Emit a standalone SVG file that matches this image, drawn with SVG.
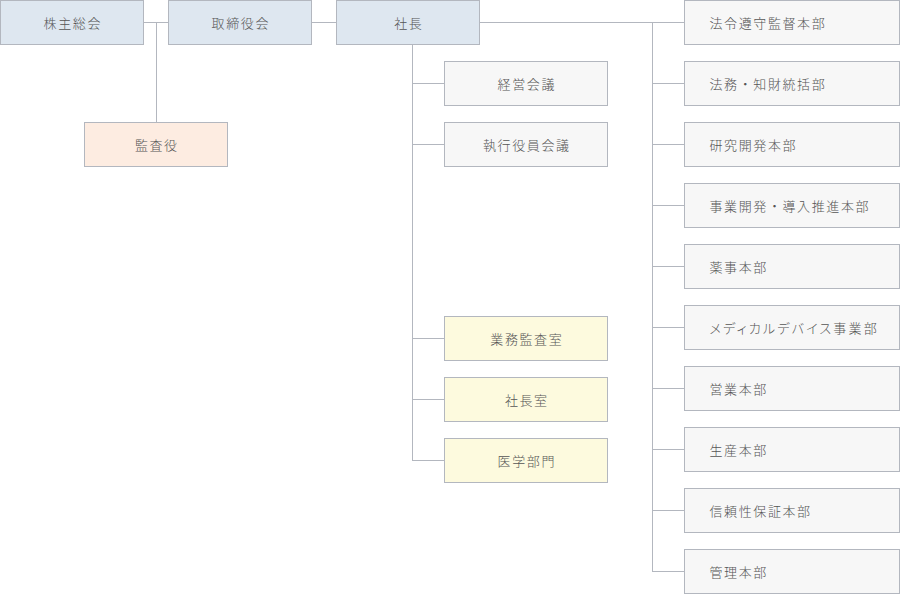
<svg xmlns="http://www.w3.org/2000/svg" width="900" height="594" viewBox="0 0 900 594">
<style>
.n rect{stroke:#b3b7bf;stroke-width:1}
.b{fill:#dee7f0}.o{fill:#fdece1}.y{fill:#fdfade}.g{fill:#f7f7f7}
text{font-family:"Noto Sans CJK JP","Noto Sans",sans-serif;font-size:13px;font-weight:300;fill:#555;letter-spacing:1.6px}
.c{text-anchor:middle}
.p{font-feature-settings:"palt";letter-spacing:2.2px}
#lines line{stroke:#b3b7bf;stroke-width:1}
</style>
<rect width="900" height="594" fill="#fff"/>
<g id="lines">
<line x1="144" y1="22.5" x2="168" y2="22.5"/>
<line x1="156.5" y1="22.5" x2="156.5" y2="122"/>
<line x1="312" y1="22.5" x2="336" y2="22.5"/>
<line x1="480" y1="22.5" x2="684" y2="22.5"/>
<line x1="412.5" y1="45" x2="412.5" y2="460.5"/>
<line x1="412.5" y1="83.5" x2="444" y2="83.5"/>
<line x1="412.5" y1="144.5" x2="444" y2="144.5"/>
<line x1="412.5" y1="338.5" x2="444" y2="338.5"/>
<line x1="412.5" y1="399.5" x2="444" y2="399.5"/>
<line x1="412" y1="460.5" x2="444" y2="460.5"/>
<line x1="652.5" y1="22.5" x2="652.5" y2="571.5"/>
<line x1="652.5" y1="83.5" x2="684" y2="83.5"/>
<line x1="652.5" y1="144.5" x2="684" y2="144.5"/>
<line x1="652.5" y1="205.5" x2="684" y2="205.5"/>
<line x1="652.5" y1="266.5" x2="684" y2="266.5"/>
<line x1="652.5" y1="327.5" x2="684" y2="327.5"/>
<line x1="652.5" y1="388.5" x2="684" y2="388.5"/>
<line x1="652.5" y1="449.5" x2="684" y2="449.5"/>
<line x1="652.5" y1="510.5" x2="684" y2="510.5"/>
<line x1="652" y1="571.5" x2="684" y2="571.5"/>
</g>
<g id="kabunushi" class="n"><rect class="b" x="0.5" y="0.5" width="143" height="44"/><text class="c" x="72.8" y="27.5">株主総会</text></g>
<g id="torishimariyaku" class="n"><rect class="b" x="168.5" y="0.5" width="143" height="44"/><text class="c" x="240.8" y="27.5">取締役会</text></g>
<g id="shacho" class="n"><rect class="b" x="336.5" y="0.5" width="143" height="44"/><text class="c" x="408.8" y="27.5">社長</text></g>
<g id="kansayaku" class="n"><rect class="o" x="84.5" y="122.5" width="143" height="44"/><text class="c" x="156.8" y="149.5">監査役</text></g>
<g id="keiei" class="n"><rect class="g" x="444.5" y="61.5" width="163" height="44"/><text class="c" x="526.8" y="88.5">経営会議</text></g>
<g id="shikko" class="n"><rect class="g" x="444.5" y="122.5" width="163" height="44"/><text class="c" x="526.8" y="149.5">執行役員会議</text></g>
<g id="gyomu" class="n"><rect class="y" x="444.5" y="316.5" width="163" height="44"/><text class="c" x="526.8" y="343.5">業務監査室</text></g>
<g id="shachoshitsu" class="n"><rect class="y" x="444.5" y="377.5" width="163" height="44"/><text class="c" x="526.8" y="404.5">社長室</text></g>
<g id="igaku" class="n"><rect class="y" x="444.5" y="438.5" width="163" height="44"/><text class="c" x="526.8" y="465.5">医学部門</text></g>
<g id="r1" class="n"><rect class="g" x="684.5" y="0.5" width="215" height="44"/><text x="709.5" y="27.5">法令遵守監督本部</text></g>
<g id="r2" class="n"><rect class="g" x="684.5" y="61.5" width="215" height="44"/><text x="709.5" y="88.5">法務・知財統括部</text></g>
<g id="r3" class="n"><rect class="g" x="684.5" y="122.5" width="215" height="44"/><text x="709.5" y="149.5">研究開発本部</text></g>
<g id="r4" class="n"><rect class="g" x="684.5" y="183.5" width="215" height="44"/><text x="709.5" y="210.5">事業開発・導入推進本部</text></g>
<g id="r5" class="n"><rect class="g" x="684.5" y="244.5" width="215" height="44"/><text x="709.5" y="271.5">薬事本部</text></g>
<g id="r6" class="n"><rect class="g" x="684.5" y="305.5" width="215" height="44"/><text class="p" x="709.5" y="332.5">メディカルデバイス事業部</text></g>
<g id="r7" class="n"><rect class="g" x="684.5" y="366.5" width="215" height="44"/><text x="709.5" y="393.5">営業本部</text></g>
<g id="r8" class="n"><rect class="g" x="684.5" y="427.5" width="215" height="44"/><text x="709.5" y="454.5">生産本部</text></g>
<g id="r9" class="n"><rect class="g" x="684.5" y="488.5" width="215" height="44"/><text x="709.5" y="515.5">信頼性保証本部</text></g>
<g id="r10" class="n"><rect class="g" x="684.5" y="549.5" width="215" height="44"/><text x="709.5" y="576.5">管理本部</text></g>
</svg>
